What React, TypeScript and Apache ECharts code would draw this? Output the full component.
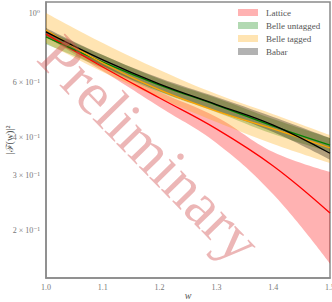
import React, { useEffect, useRef } from 'react';
import * as echarts from 'echarts';

// recoil variable w (x-axis categories, evenly spaced)
const wValues = [1.0, 1.1, 1.2, 1.3, 1.4, 1.5];

// Lattice
const latticeCentral = [0.858, 0.672, 0.534, 0.425, 0.323, 0.228];
const latticeUpper = [0.877, 0.687, 0.558, 0.464, 0.358, 0.309];
const latticeLower = [0.839, 0.652, 0.500, 0.383, 0.262, 0.157];

// Belle untagged
const belleUntaggedCentral = [0.839, 0.697, 0.588, 0.507, 0.434, 0.377];
const belleUntaggedUpper = [0.884, 0.734, 0.615, 0.534, 0.457, 0.397];
const belleUntaggedLower = [0.797, 0.667, 0.558, 0.481, 0.409, 0.358];

// Belle tagged
const belleTaggedCentral = [0.884, 0.692, 0.567, 0.485, 0.425, 0.369];
const belleTaggedUpper = [1.002, 0.802, 0.657, 0.550, 0.474, 0.406];
const belleTaggedLower = [0.802, 0.647, 0.534, 0.447, 0.380, 0.330];

// Babar
const babarCentral = [0.871, 0.708, 0.592, 0.509, 0.437, 0.355];
const babarUpper = [0.897, 0.734, 0.619, 0.538, 0.464, 0.397];
const babarLower = [0.839, 0.677, 0.562, 0.485, 0.415, 0.338];

const legendNames = ['Lattice', 'Belle untagged', 'Belle tagged', 'Babar'];
const yTickValues = [1, 0.6, 0.4, 0.3, 0.2];
const yTickLabels = ['10⁰', '6 × 10⁻¹', '4 × 10⁻¹', '3 × 10⁻¹', '2 × 10⁻¹'];
const yMin = 0.141;
const yMax = 1.087;

const FONT = '"Liberation Serif", "DejaVu Serif", serif';

const lineColors = ['#ff0000', '#008000', '#ffa500', '#000000'];
const bandColors = ['rgb(255,0,0)', 'rgb(0,128,0)', 'rgb(255,165,0)', 'rgb(0,0,0)'];
const legendFills = ['rgba(255,0,0,0.3)', 'rgba(0,128,0,0.3)', 'rgba(255,165,0,0.3)', 'rgba(0,0,0,0.3)'];

const lg = (v: number) => Math.log10(v);

function bandSeries(name: string, lower: number[], upper: number[], color: string, fill: string, id: string) {
  return [
    {
      type: 'line',
      name: name + ' lower',
      stack: id,
      stackStrategy: 'all',
      data: lower.map((v) => lg(v)),
      symbol: 'none',
      smooth: 0.4,
      lineStyle: { opacity: 0, width: 0 },
      silent: true,
      z: 2,
    },
    {
      type: 'line',
      name,
      stack: id,
      stackStrategy: 'all',
      data: upper.map((v, i) => lg(v) - lg(lower[i])),
      symbol: 'none',
      smooth: 0.4,
      lineStyle: { opacity: 0, width: 0 },
      itemStyle: { color: fill },
      areaStyle: { color, opacity: 0.3 },
      silent: true,
      z: 2,
    },
  ];
}

function centralSeries(name: string, values: number[], color: string) {
  return {
    type: 'line',
    name: name + ' central',
    data: values.map((v) => lg(v)),
    symbol: 'none',
    smooth: 0.4,
    lineStyle: { color, width: 1.3 },
    silent: true,
    z: 3,
  };
}

export default function App() {
  const ref = useRef<HTMLDivElement>(null);

  useEffect(() => {
    document.body.style.margin = '0';
    if (!ref.current) return;
    const chart = echarts.init(ref.current, undefined, { renderer: 'svg' });
    const tickLogs = yTickValues.map(lg);
    const option: any = {
      animation: false,
      grid: {
        left: 46,
        right: 2,
        top: 2,
        bottom: 24,
        containLabel: false,
        outerBoundsMode: 'none',
        show: true,
        borderColor: '#8a8a8a',
        borderWidth: 1.5,
        backgroundColor: 'transparent',
      },
      xAxis: {
        type: 'category',
        boundaryGap: false,
        data: wValues.map((w) => w.toFixed(1)),
        axisLine: { show: true, onZero: false, lineStyle: { color: '#8a8a8a', width: 1.5 } },
        axisTick: { show: false },
        splitLine: { show: false },
        axisLabel: {
          fontSize: 8,
          color: '#777',
          fontFamily: FONT,
          margin: 5,
          interval: 0,
        },
        name: 'w',
        nameLocation: 'middle',
        nameGap: 12,
        nameMoveOverlap: false,
        nameTextStyle: { fontSize: 10, fontStyle: 'italic', color: '#555', fontFamily: FONT },
      },
      yAxis: {
        type: 'value',
        min: lg(yMin),
        max: lg(yMax),
        axisLine: { show: true, onZero: false, lineStyle: { color: '#8a8a8a', width: 1.5 } },
        axisTick: { show: false },
        splitLine: { show: false },
        axisLabel: {
          customValues: tickLogs,
          formatter: (v: number) => {
            let best = 0;
            for (let i = 1; i < tickLogs.length; i++) {
              if (Math.abs(tickLogs[i] - v) < Math.abs(tickLogs[best] - v)) best = i;
            }
            return yTickLabels[best];
          },
          fontSize: 8,
          color: '#777',
          fontFamily: FONT,
          margin: 6,
        },
        name: '|ℱ(w)|²',
        nameLocation: 'middle',
        nameGap: 32,
        nameMoveOverlap: false,
        nameTextStyle: { fontSize: 10, color: '#555', fontFamily: FONT },
      },
      legend: {
        orient: 'vertical',
        left: 238,
        top: 7,
        padding: 0,
        itemWidth: 20,
        itemHeight: 7,
        itemGap: 2,
        selectedMode: false,
        textStyle: { fontSize: 9, lineHeight: 11, color: '#555', fontFamily: FONT, padding: [0, 0, 0, 3] },
        data: legendNames.map((n, i) => ({ name: n, icon: 'rect', itemStyle: { color: legendFills[i] } })),
      },
      graphic: [
        {
          type: 'text',
          x: 150,
          y: 149,
          rotation: -0.8,
          z: 10,
          silent: true,
          style: {
            text: 'Preliminary',
            font: '61px "Liberation Serif", serif',
            fill: 'rgba(210,80,80,0.42)',
            align: 'center',
            verticalAlign: 'middle',
          },
        },
      ],
      series: [
        ...bandSeries(legendNames[0], latticeLower, latticeUpper, bandColors[0], legendFills[0], 'lat'),
        ...bandSeries(legendNames[1], belleUntaggedLower, belleUntaggedUpper, bandColors[1], legendFills[1], 'bu'),
        ...bandSeries(legendNames[2], belleTaggedLower, belleTaggedUpper, bandColors[2], legendFills[2], 'bt'),
        ...bandSeries(legendNames[3], babarLower, babarUpper, bandColors[3], legendFills[3], 'bb'),
        centralSeries(legendNames[0], latticeCentral, lineColors[0]),
        centralSeries(legendNames[1], belleUntaggedCentral, lineColors[1]),
        centralSeries(legendNames[2], belleTaggedCentral, lineColors[2]),
        centralSeries(legendNames[3], babarCentral, lineColors[3]),
      ],
    };
    chart.setOption(option);
    return () => chart.dispose();
  }, []);

  return <div ref={ref} style={{ width: 332, height: 302 }} />;
}
